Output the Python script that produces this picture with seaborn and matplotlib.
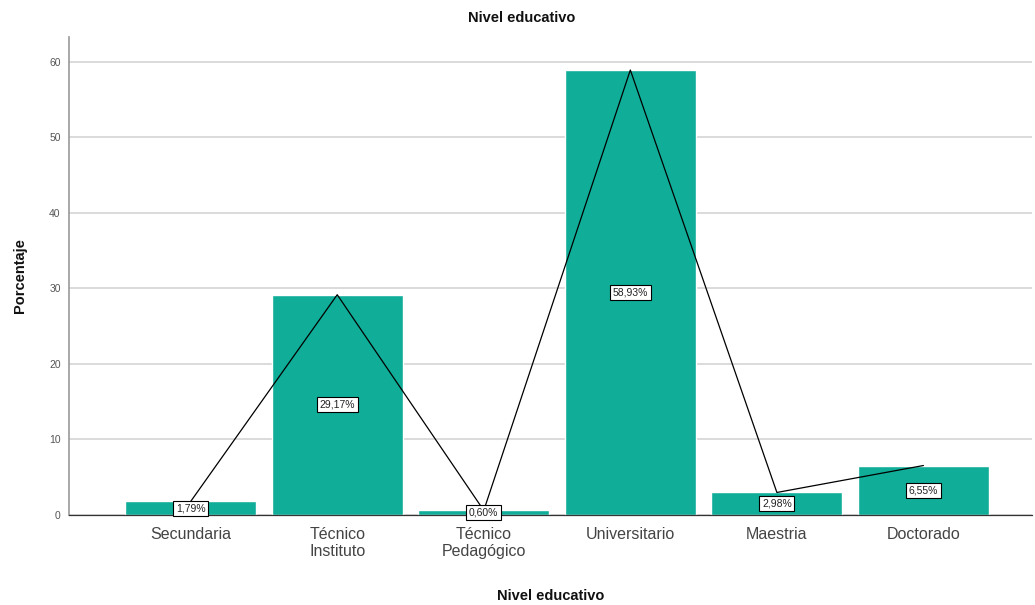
import matplotlib
matplotlib.use("Agg")
import matplotlib.pyplot as plt
import seaborn as sns
import pandas as pd

# Data: distribution of educational level (percent)
categorias = ["Secundaria", "Técnico\nInstituto", "Técnico\nPedagógico",
              "Universitario", "Maestria", "Doctorado"]
porcentajes = [1.79, 29.17, 0.60, 58.93, 2.98, 6.55]
yticks = [0, 10, 20, 30, 40, 50, 60]

df = pd.DataFrame({"Nivel educativo": categorias, "Porcentaje": porcentajes})

sns.set_theme(style="white")
plt.rcParams["font.family"] = ["Liberation Sans", "DejaVu Sans"]

fig = plt.figure(figsize=(10.35, 6.05), dpi=100)
ax = fig.add_axes([0.0667, 0.1488, 0.9303, 0.79])

bar_color = "#10AE98"
sns.barplot(data=df, x="Nivel educativo", y="Porcentaje", color=bar_color,
            width=0.895, saturation=1, ax=ax, zorder=2)

# Connecting line through the bar tops
sns.lineplot(data=df, x="Nivel educativo", y="Porcentaje", sort=False,
             color="black", linewidth=0.9, ax=ax, zorder=3)

# Value labels in boxes at half the bar height
for i, v in enumerate(porcentajes):
    ax.text(i, v / 2, f"{v:.2f}%".replace(".", ","), ha="center", va="center",
            fontsize=7.5, color="#222222", zorder=5,
            bbox=dict(boxstyle="square,pad=0.25", facecolor="white",
                      edgecolor="black", linewidth=0.8))

ax.set_xlim(-0.83, 5.74)
ax.set_ylim(0, 63.3)
ax.set_yticks(yticks)
ax.set_yticklabels([str(t) for t in yticks], fontsize=7.5, color="#555555")
ax.tick_params(axis="x", labelsize=11.5, colors="#444444", length=0, pad=9)
for lbl in ax.get_xticklabels():
    lbl.set_linespacing(1.1)
ax.tick_params(axis="y", length=0, pad=6)

ax.yaxis.grid(True, color="#d4d4d4", linewidth=1.2, zorder=0)
ax.set_axisbelow(True)

for s in ["top", "right"]:
    ax.spines[s].set_visible(False)
ax.spines["left"].set_color("#999999")
ax.spines["left"].set_linewidth(1.2)
ax.spines["bottom"].set_color("#333333")
ax.spines["bottom"].set_linewidth(0.9)

ax.set_xlabel("Nivel educativo", fontsize=10.5, fontweight="bold",
              color="#111111", labelpad=22)
ax.set_ylabel("Porcentaje", fontsize=10.5, fontweight="bold",
              color="#111111", labelpad=16)
fig.text(522 / 1035, 1 - 18 / 605, "Nivel educativo", ha="center",
         va="center", fontsize=10.5, fontweight="bold", color="#111111")

fig.savefig("out.png", dpi=100, facecolor="white")
